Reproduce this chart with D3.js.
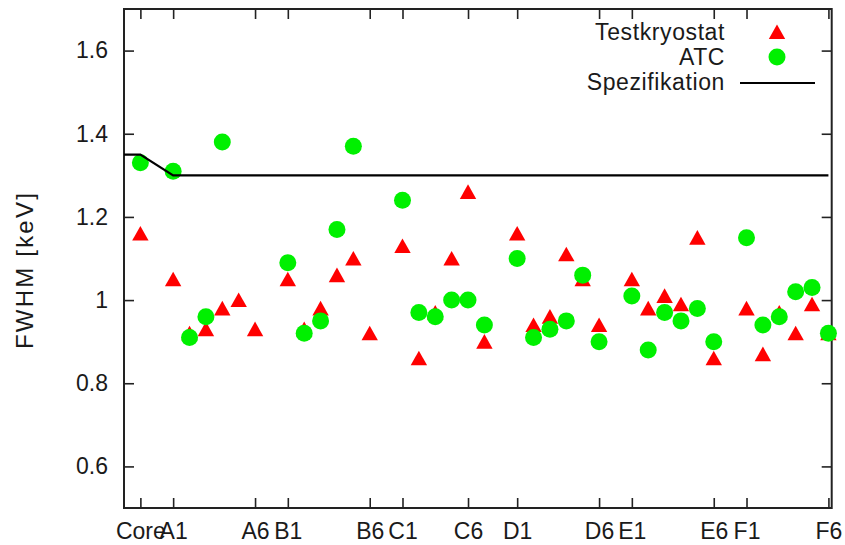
<!DOCTYPE html>
<html>
<head>
<meta charset="utf-8">
<script src="https://cdn.jsdelivr.net/npm/d3@7"></script>
<style>
  html, body { margin: 0; padding: 0; background: #fff; }
  svg { display: block; }
  text { font-family: "Liberation Sans", Arial, sans-serif; fill: #1a1a1a; }
</style>
</head>
<body>
<svg id="chart" width="845" height="545"></svg>
<script>
// Detector channels: Core, then six segments in each of the groups A–F
const detectors = ["Core",
  "A1","A2","A3","A4","A5","A6",
  "B1","B2","B3","B4","B5","B6",
  "C1","C2","C3","C4","C5","C6",
  "D1","D2","D3","D4","D5","D6",
  "E1","E2","E3","E4","E5","E6",
  "F1","F2","F3","F4","F5","F6"];

// FWHM [keV] measured in the test cryostat
const testkryostat = [1.16,
  1.05, 0.92, 0.93, 0.98, 1.00, 0.93,
  1.05, 0.93, 0.98, 1.06, 1.10, 0.92,
  1.13, 0.86, 0.97, 1.10, 1.26, 0.90,
  1.16, 0.94, 0.96, 1.11, 1.05, 0.94,
  1.05, 0.98, 1.01, 0.99, 1.15, 0.86,
  0.98, 0.87, 0.97, 0.92, 0.99, 0.92];

// FWHM [keV] measured in the ATC (null = no measurement)
const atc = [1.33,
  1.31, 0.91, 0.96, 1.38, null, null,
  1.09, 0.92, 0.95, 1.17, 1.37, null,
  1.24, 0.97, 0.96, 1.00, 1.00, 0.94,
  1.10, 0.91, 0.93, 0.95, 1.06, 0.90,
  1.01, 0.88, 0.97, 0.95, 0.98, 0.90,
  1.15, 0.94, 0.96, 1.02, 1.03, 0.92];

// Specification limit
const specX = [-1, 0, 2, 42];
const specY = [1.35, 1.35, 1.30, 1.30];

// Axis ticks
const xTickPos = [0, 2, 7, 9, 14, 16, 20, 23, 28, 30, 35, 37, 42];
const xTickLabels = ["Core","A1","A6","B1","B6","C1","C6","D1","D6","E1","E6","F1","F6"];
const yTicks = [0.6, 0.8, 1.0, 1.2, 1.4, 1.6];

// channel position: Core at 0, each group of six followed by one empty slot
const chanPos = i => i === 0 ? 0 : 2 + Math.floor((i - 1) / 6) * 7 + ((i - 1) % 6);

const svg = d3.select("#chart");
const L = 124, R = 831.7, T = 9, B = 508;

const x = d3.scaleLinear().domain([-1, 42.2]).range([L, R]);
const y = d3.scaleLinear().domain([0.5, 1.7]).range([B, T]);

const fontSize = 23;
const tickLen = 10;

// axes with inward ticks, mirrored on top and right
const xLabel = d => xTickLabels[xTickPos.indexOf(d)];
const gx = svg.append("g").attr("transform", `translate(0,${B})`)
  .call(d3.axisBottom(x).tickValues(xTickPos).tickSize(-tickLen).tickPadding(15).tickFormat(xLabel));
const gxt = svg.append("g").attr("transform", `translate(0,${T})`)
  .call(d3.axisTop(x).tickValues(xTickPos).tickSize(-tickLen).tickFormat(""));
const gy = svg.append("g").attr("transform", `translate(${L},0)`)
  .call(d3.axisLeft(y).tickValues(yTicks).tickSize(-tickLen).tickPadding(16).tickFormat(d => String(+d.toFixed(1))));
const gyr = svg.append("g").attr("transform", `translate(${R},0)`)
  .call(d3.axisRight(y).tickValues(yTicks).tickSize(-tickLen).tickFormat(""));

[gx, gxt, gy, gyr].forEach(g => {
  g.select(".domain").remove();
  g.selectAll(".tick line").attr("stroke", "#222").attr("stroke-width", 1.6);
  g.selectAll(".tick text").attr("font-size", fontSize).attr("font-family", "Liberation Sans, Arial, sans-serif").attr("fill", "#1a1a1a");
});
gx.selectAll(".tick text").attr("dy", "0.71em");

// frame
svg.append("rect").attr("x", L).attr("y", T).attr("width", R - L).attr("height", B - T)
  .attr("fill", "none").attr("stroke", "#222").attr("stroke-width", 2);

// y axis title
svg.append("text")
  .attr("transform", `translate(33,270) rotate(-90)`)
  .attr("text-anchor", "middle")
  .attr("font-size", 24)
  .attr("letter-spacing", 2.2)
  .text("FWHM [keV]");

const red = "#ff0000", green = "#00f000";
const triPath = (cx, cy) => {
  const p = d3.path();
  p.moveTo(cx, cy - 7.6);
  p.lineTo(cx + 8.2, cy + 7);
  p.lineTo(cx - 8.2, cy + 7);
  p.closePath();
  return p.toString();
};

// Testkryostat: triangles
svg.append("g").selectAll("path")
  .data(testkryostat.map((v, i) => ({ v, p: chanPos(i) })).filter(d => d.v != null))
  .join("path")
  .attr("d", d => triPath(x(d.p), y(d.v)))
  .attr("fill", red);

// ATC: circles
svg.append("g").selectAll("circle")
  .data(atc.map((v, i) => ({ v, p: chanPos(i) })).filter(d => d.v != null))
  .join("circle")
  .attr("cx", d => x(d.p)).attr("cy", d => y(d.v)).attr("r", 8.5)
  .attr("fill", green);

// Specification line
svg.append("path")
  .datum(specX.map((v, i) => [v, specY[i]]))
  .attr("d", d3.line().x(d => x(d[0])).y(d => y(d[1])))
  .attr("fill", "none").attr("stroke", "#000").attr("stroke-width", 2.2);

// legend
const legend = [
  { label: "Testkryostat", kind: "tri" },
  { label: "ATC", kind: "circle" },
  { label: "Spezifikation", kind: "line" }
];
const lg = svg.append("g");
legend.forEach((d, i) => {
  const cy = 32 + i * 25;
  lg.append("text").attr("x", 725).attr("y", cy).attr("dy", "0.35em")
    .attr("text-anchor", "end").attr("font-size", fontSize).attr("letter-spacing", 0.6).text(d.label);
  if (d.kind === "tri") lg.append("path").attr("d", triPath(777, cy)).attr("fill", red);
  else if (d.kind === "circle") lg.append("circle").attr("cx", 777).attr("cy", cy).attr("r", 8.5).attr("fill", green);
  else lg.append("line").attr("x1", 740).attr("x2", 815).attr("y1", cy + 1).attr("y2", cy + 1)
    .attr("stroke", "#000").attr("stroke-width", 2.2);
});
</script>
</body>
</html>
